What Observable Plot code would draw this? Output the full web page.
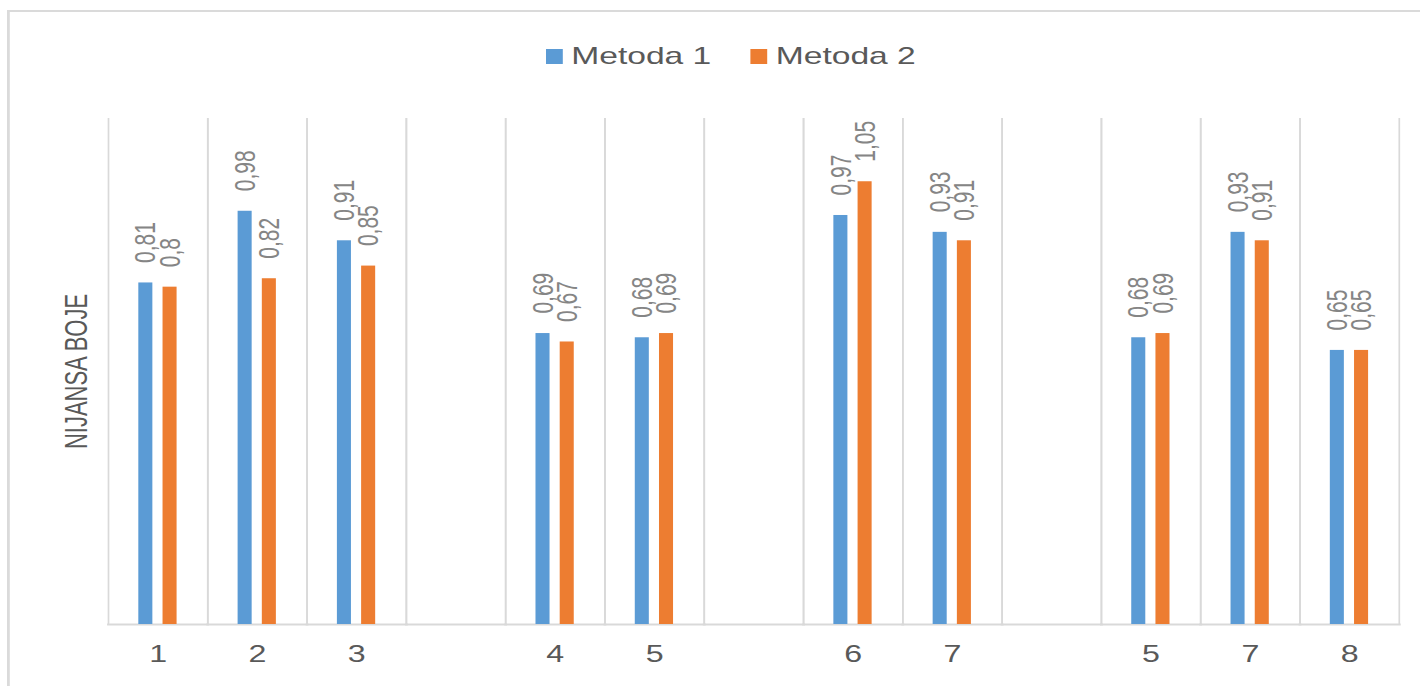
<!DOCTYPE html>
<html>
<head>
<meta charset="utf-8">
<script src="https://cdn.jsdelivr.net/npm/d3@7"></script>
<script src="https://cdn.jsdelivr.net/npm/@observablehq/plot@0.6"></script>
<style>
  html, body { margin: 0; padding: 0; background: #fff; overflow: hidden; }
  #wrap { position: relative; width: 1014px; height: 686px; transform: scaleX(1.4); transform-origin: 0 0; font-family: "Liberation Sans", Arial, sans-serif; }
  #border { position: absolute; left: 5px; top: 10px; right: -10px; bottom: -10px; border-top: 2px solid #dadada; border-left: 2px solid #dadada; }
  #legend { position: absolute; left: 390px; top: 42px; display: flex; align-items: center; font-size: 24px; color: #595959; }
  .sw { width: 12px; height: 15px; margin-right: 6px; }
  .item { display: flex; align-items: center; margin-right: 28px; }
  #chart { position: absolute; left: 0; top: 0; }
</style>
</head>
<body>
<div id="wrap">
  <div id="border"></div>
  <div id="legend"></div>
  <div id="chart"></div>
</div>
<script>
const slotLabels = ["1", "2", "3", "", "4", "5", "", "6", "7", "", "5", "7", "8"];
const seriesNames = ["Metoda 1", "Metoda 2"];
const metoda1 = [0.81, 0.98, 0.91, null, 0.69, 0.68, null, 0.97, 0.93, null, 0.68, 0.93, 0.65];
const metoda2 = [0.80, 0.82, 0.85, null, 0.67, 0.69, null, 1.05, 0.91, null, 0.69, 0.91, 0.65];
const seriesColors = ["#5B9BD5", "#ED7D31"];
const yTitle = "NIJANSA BOJE";

const data = [];
slotLabels.forEach((lab, i) => {
  data.push({slot: i, series: seriesNames[0], value: metoda1[i]});
  data.push({slot: i, series: seriesNames[1], value: metoda2[i]});
});
const fmt = v => String(v).replace(".", ",");

const legend = document.getElementById("legend");
seriesNames.forEach((s, i) => {
  const it = document.createElement("div");
  it.className = "item";
  const sw = document.createElement("div");
  sw.className = "sw";
  sw.style.background = seriesColors[i];
  const t = document.createElement("span");
  t.textContent = s;
  it.appendChild(sw); it.appendChild(t);
  legend.appendChild(it);
});

const plot = Plot.plot({
  width: 1014,
  height: 686,
  marginTop: 118,
  marginBottom: 62,
  marginLeft: 77,
  marginRight: 15,
  style: {fontFamily: "'Liberation Sans', Arial, sans-serif", background: "transparent"},
  fx: {domain: d3.range(slotLabels.length), padding: 0, round: false, axis: null},
  x: {domain: seriesNames, paddingInner: 0.42, paddingOuter: 1.26, round: false, axis: null},
  y: {domain: [0, 1.2], axis: null},
  color: {domain: seriesNames, range: seriesColors},
  marks: [
    Plot.frame({anchor: "left", stroke: "#d9d9d9", strokeWidth: 1.2}),
    Plot.frame({anchor: "right", stroke: "#d9d9d9", strokeWidth: 1.2}),
    Plot.frame({anchor: "bottom", stroke: "#d9d9d9", strokeWidth: 2}),
    Plot.barY(data, {fx: "slot", x: "series", y: "value", fill: "series", stroke: "none"}),
    Plot.text(data.filter(d => d.value != null), {
      fx: "slot", x: "series", y: "value", text: d => fmt(d.value),
      rotate: -90, textAnchor: "start", dy: -20, fill: "#858585", fontSize: 21
    }),
    Plot.axisFx({anchor: "bottom", tickSize: 0, tickPadding: 21, label: null,
      tickFormat: i => slotLabels[i], fontSize: 23, color: "#595959"}),
    Plot.axisY({anchor: "left", ticks: [], tickSize: 0, label: yTitle, labelAnchor: "center",
      labelArrow: "none", labelOffset: 31, fontSize: 22, color: "#595959"})
  ]
});
document.getElementById("chart").appendChild(plot);
</script>
</body>
</html>
